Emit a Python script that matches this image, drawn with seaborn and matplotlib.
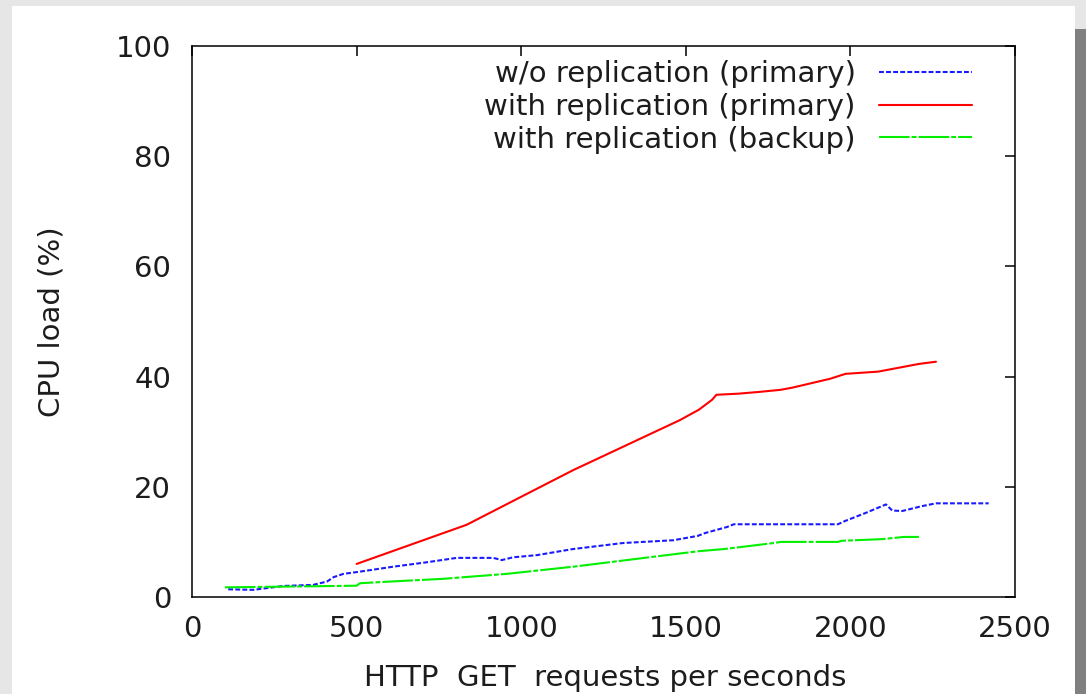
import matplotlib
matplotlib.use("Agg")
import matplotlib.pyplot as plt
from matplotlib.patches import Rectangle
import pandas as pd
import seaborn as sns

# Request rate (HTTP GET / s) and CPU load (%) for each configuration
wo_rep_primary_x = [110, 186, 277, 368, 410, 430, 460, 510, 611, 713, 804, 915, 941, 975,
                    1048, 1157, 1310, 1462, 1537, 1558, 1625, 1646, 1962, 1984, 2044, 2108,
                    2127, 2157, 2218, 2260, 2420]
wo_rep_primary_y = [1.4, 1.3, 2.0, 2.2, 2.8, 3.6, 4.2, 4.6, 5.5, 6.3, 7.1, 7.1, 6.7, 7.2,
                    7.6, 8.7, 9.8, 10.3, 11.1, 11.6, 12.7, 13.2, 13.2, 13.8, 15.2, 16.8,
                    15.7, 15.6, 16.5, 17.0, 17.0]

rep_primary_x = [500, 834, 1157, 1482, 1540, 1580, 1593, 1659, 1719, 1788, 1824, 1938,
                 1985, 2084, 2208, 2260]
rep_primary_y = [6.0, 13.1, 23.0, 32.1, 34.0, 35.8, 36.7, 36.9, 37.2, 37.6, 38.0, 39.6,
                 40.5, 40.9, 42.3, 42.7]

rep_backup_x = [100, 500, 510, 601, 763, 956, 1158, 1361, 1537, 1616, 1768, 1789, 1962,
                1973, 2096, 2162, 2208]
rep_backup_y = [1.75, 2.05, 2.5, 2.8, 3.3, 4.2, 5.5, 7.0, 8.3, 8.7, 9.8, 10.0, 10.0,
                10.2, 10.5, 10.9, 10.9]

series_labels = ["w/o replication (primary)",
                 "with replication (primary)",
                 "with replication (backup)"]
x_ticks = [0, 500, 1000, 1500, 2000, 2500]
y_ticks = [0, 20, 40, 60, 80, 100]

sns.set_theme(style="white")
plt.rcParams["font.family"] = ["DejaVu Sans"]
plt.rcParams["lines.scale_dashes"] = False

TEXT = "#1c1c1c"
FS = 21

fig = plt.figure(figsize=(10.86, 6.94), dpi=100)
fig.patch.set_facecolor("#e6e6e6")
# page panel behind the plot
fig.add_artist(Rectangle((12 / 1086, 0), (1075 - 12) / 1086, (694 - 6) / 694,
                         transform=fig.transFigure, facecolor="white",
                         edgecolor="none", zorder=-10))
fig.add_artist(Rectangle((1075 / 1086, 0), 11 / 1086, (694 - 29) / 694,
                         transform=fig.transFigure, facecolor="#808080",
                         edgecolor="none", zorder=-10))

ax = fig.add_axes([192 / 1086, 97 / 694, 823 / 1086, 551 / 694])
ax.set_facecolor("white")

styles = [
    (wo_rep_primary_x, wo_rep_primary_y, "#1a1aff", (0, (3.5, 1.6))),
    (rep_primary_x, rep_primary_y, "#ff0000", "-"),
    (rep_backup_x, rep_backup_y, "#00f000", (0, (22, 1.5, 3.5, 1.5))),
]
for (xs, ys, color, ls), label in zip(styles, series_labels):
    df = pd.DataFrame({"x": xs, "y": ys})
    sns.lineplot(data=df, x="x", y="y", ax=ax, color=color, linestyle=ls,
                 linewidth=1.5, label=label, estimator=None, sort=False)

ax.set_xlim(0, 2500)
ax.set_ylim(0, 100)
ax.set_xticks(x_ticks)
ax.set_yticks(y_ticks)
ax.set_xticklabels([str(v) for v in x_ticks])
ax.set_yticklabels([str(v) for v in y_ticks])
ax.tick_params(axis="both", direction="in", length=7, width=1.1, color="black",
               labelsize=FS, labelcolor=TEXT, top=True, right=True)
ax.tick_params(axis="y", pad=15)
ax.tick_params(axis="x", pad=13)
for s in ax.spines.values():
    s.set_color("black")
    s.set_linewidth(1.1)
ax.grid(False)

ax.set_xlabel("HTTP  GET  requests per seconds", fontsize=FS, color=TEXT)
ax.set_ylabel("CPU load (%)", fontsize=FS, color=TEXT)
ax.xaxis.set_label_coords(0.502, -0.121)
ax.yaxis.set_label_coords(-0.154, 0.5)

leg = ax.legend(loc="upper right", bbox_to_anchor=(0.948, 0.975), frameon=False,
                markerfirst=False, fontsize=FS, handlelength=3.2, handletextpad=0.8,
                labelspacing=0.17, borderaxespad=0, borderpad=0)
for t in leg.get_texts():
    t.set_color(TEXT)

fig.savefig("out.png", dpi=100, facecolor=fig.get_facecolor())
